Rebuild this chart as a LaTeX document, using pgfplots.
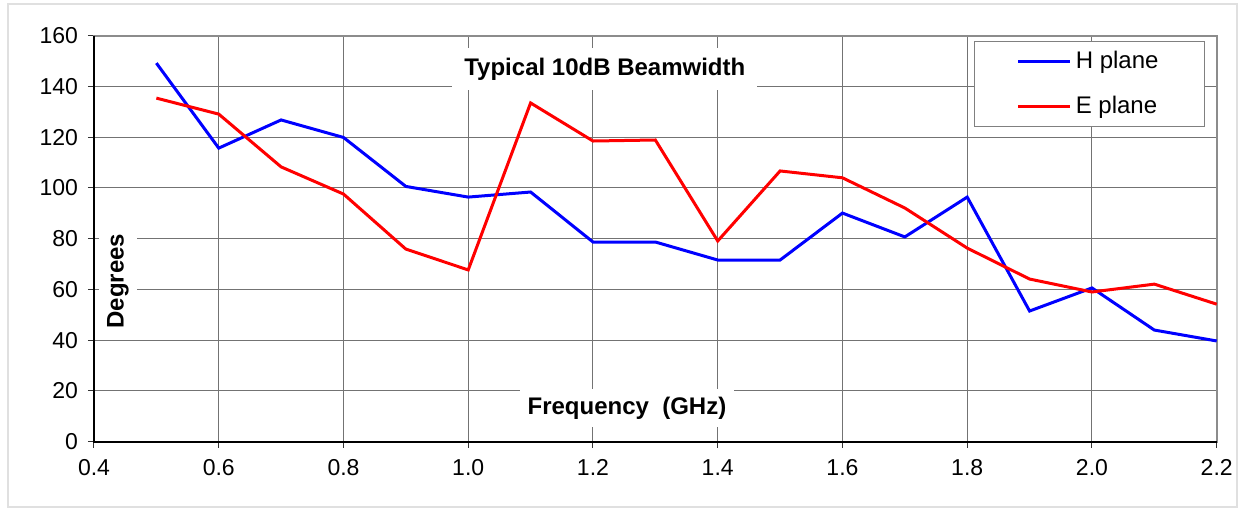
\documentclass[border=0pt]{standalone}
\usepackage{fontspec}
\setmainfont{Liberation Sans}
\usepackage{pgfplots}
\pgfplotsset{compat=1.18}
\begin{document}
\begin{tikzpicture}[x=0.5pt,y=0.5pt]
\path[use as bounding box] (0,0) rectangle (1242,510);
\draw[black!12, line width=1pt] (8,3) rectangle (1237,506);
\begin{axis}[
  at={(47pt,34.15pt)}, anchor=south west,
  scale only axis, width=561.35pt, height=203pt,
  xmin=0.4, xmax=2.2, ymin=0, ymax=160,
  xtick={0.4,0.6,...,2.21}, ytick={0,20,...,160},
  xticklabel style={/pgf/number format/fixed, /pgf/number format/fixed zerofill, /pgf/number format/precision=1, yshift=-2.5pt},
  yticklabel style={xshift=-1.5pt},
  /pgf/number format/assume math mode=true,
  tick label style={font=\fontsize{11.5}{13}\selectfont, black},
  xtick pos=bottom, ytick pos=left,
  tick align=outside, major tick length=3pt,
  tick style={black!80, line width=0.5pt},
  grid=major, major grid style={black!55, line width=0.5pt},
  axis line style={black!45, line width=1.2pt},
  legend style={at={(0.9896,0.987)}, anchor=north east, draw=black!50, line width=0.5pt, fill=white,
    font=\fontsize{12}{14}\selectfont, inner xsep=21pt, inner ysep=3pt, row sep=8pt},
  legend cell align=left,
  legend image code/.code={\draw[#1] (0pt,0pt) -- (26pt,0pt);},
  clip=false,
]
\addplot[blue, line width=1.5pt] coordinates {
(0.5,149.2) (0.6,115.7) (0.7,126.8) (0.8,119.9) (0.9,100.6) (1.0,96.4) (1.1,98.4)
(1.2,78.7) (1.3,78.7) (1.4,71.6) (1.5,71.6) (1.6,90.1) (1.7,80.7) (1.8,96.4)
(1.9,51.5) (2.0,60.6) (2.1,44.0) (2.2,39.7)};
\addlegendentry{H plane}
\addplot[red, line width=1.5pt] coordinates {
(0.5,135.4) (0.6,129.1) (0.7,108.3) (0.8,97.6) (0.9,75.9) (1.0,67.7) (1.1,133.5)
(1.2,118.5) (1.3,118.9) (1.4,79.1) (1.5,106.7) (1.6,104.0) (1.7,92.1) (1.8,76.3)
(1.9,64.1) (2.0,59.0) (2.1,62.1) (2.2,54.2)};
\addlegendentry{E plane}
\draw[black, line width=1.1pt] (rel axis cs:0,1) -- (rel axis cs:0,0) -- (rel axis cs:1,0);
\node[fill=white, inner xsep=6pt, inner ysep=5pt, font=\bfseries\fontsize{12}{14}\selectfont] at (axis cs:1.219,146.8) {Typical 10dB Beamwidth};
\node[fill=white, inner xsep=4pt, inner ysep=4pt, font=\bfseries\fontsize{12}{14}\selectfont] at (axis cs:1.2545,13.3) {Frequency\ \ (GHz)};
\node[fill=white, rotate=90, inner xsep=6pt, inner ysep=4pt, font=\bfseries\fontsize{12}{14}\selectfont] at (axis cs:0.4385,63.3) {Degrees};
\end{axis}
\end{tikzpicture}
\end{document}
